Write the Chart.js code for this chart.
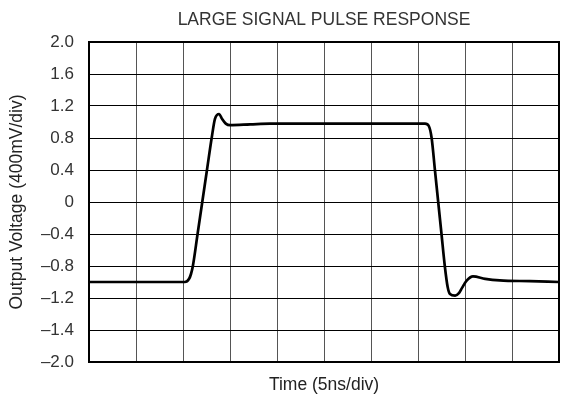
<!DOCTYPE html>
<html>
<head>
<meta charset="utf-8">
<script src="https://cdn.jsdelivr.net/npm/chart.js@4.4.0/dist/chart.umd.min.js"></script>
<style>
  html, body { margin: 0; padding: 0; background: #fff; }
  #wrap { width: 562px; height: 400px; }
</style>
</head>
<body>
<div id="wrap"><canvas id="pulse"></canvas></div>
<script>
// time in divisions (5ns/div), output in volts
const timeDiv = [0, 1, 2.04, 2.13, 2.17, 2.21, 2.31, 2.41, 2.51, 2.61, 2.68, 2.77, 2.83, 2.91, 3.0, 3.43, 3.85, 5, 6, 7.15, 7.23, 7.29, 7.36, 7.43, 7.5, 7.57, 7.63, 7.68, 7.79, 7.87, 7.94, 8.04, 8.17, 8.43, 8.74, 9.38, 10];
const voltage = [-1.0, -1.0, -1.0, -0.96, -0.9, -0.8, -0.4, 0.0, 0.4, 0.8, 1.04, 1.1, 1.04, 0.98, 0.96, 0.97, 0.98, 0.98, 0.98, 0.98, 0.95, 0.8, 0.4, 0.0, -0.4, -0.8, -1.06, -1.15, -1.17, -1.14, -1.07, -0.98, -0.93, -0.96, -0.98, -0.99, -1.0];
const yTickValues = [2.0, 1.6, 1.2, 0.8, 0.4, 0, -0.4, -0.8, -1.2, -1.6, -2.0];
const yTickLabels = ["2.0", "1.6", "1.2", "0.8", "0.4", "0", "\u20130.4", "\u20130.8", "\u20131.2", "\u20131.4", "\u20132.0"];

const points = timeDiv.map((t, i) => ({ x: t, y: voltage[i] }));
const fontFam = "'Liberation Sans', Arial, sans-serif";

new Chart(document.getElementById("pulse"), {
    type: "line",
    data: {
        datasets: [{
            data: points,
            borderColor: "#000",
            borderWidth: 2.7,
            pointRadius: 0,
            cubicInterpolationMode: "monotone",
            fill: false
        }]
    },
    options: {
        responsive: true,
        maintainAspectRatio: false,
        animation: false,
        layout: { padding: { left: 0, right: 3, top: 0, bottom: 0 } },
        plugins: {
            legend: { display: false },
            tooltip: { enabled: false },
            title: {
                display: true,
                fullSize: false,
                text: "LARGE SIGNAL PULSE RESPONSE",
                color: "#333",
                font: { family: fontFam, size: 17.5, weight: "normal" },
                padding: { top: 10, bottom: 11 }
            }
        },
        scales: {
            x: {
                type: "linear",
                min: 0,
                max: 10,
                ticks: { stepSize: 1, display: false },
                grid: { color: "#555", lineWidth: 1, drawTicks: false },
                border: { color: "#000", width: 2 },
                title: {
                    display: true,
                    text: "Time (5ns/div)",
                    color: "#222",
                    font: { family: fontFam, size: 17.5 },
                    padding: { top: 8, bottom: 4 }
                },
                afterFit: (scale) => { scale.height = 38; }
            },
            y: {
                min: -2.0,
                max: 2.0,
                ticks: {
                    stepSize: 0.4,
                    padding: 15,
                    color: "#333",
                    font: { family: fontFam, size: 17 },
                    callback: (v) => {
                        const i = yTickValues.findIndex(t => Math.abs(t - v) < 1e-6);
                        return i >= 0 ? yTickLabels[i] : "";
                    }
                },
                grid: { color: "#000", lineWidth: 1, drawTicks: false },
                border: { color: "#000", width: 2 },
                title: {
                    display: true,
                    text: "Output Voltage (400mV/div)",
                    color: "#222",
                    font: { family: fontFam, size: 17.5 },
                    padding: { top: 7, bottom: 0 }
                },
                afterFit: (scale) => { scale.width = 89; }
            }
        }
    },
    plugins: [{
        // closing frame round the plot area
        id: "frame",
        afterDraw(chart) {
            const { ctx, chartArea: a } = chart;
            ctx.save();
            ctx.strokeStyle = "#000";
            ctx.lineWidth = 2;
            ctx.strokeRect(a.left, a.top, a.right - a.left, a.bottom - a.top);
            ctx.restore();
        }
    }]
});
</script>
</body>
</html>
